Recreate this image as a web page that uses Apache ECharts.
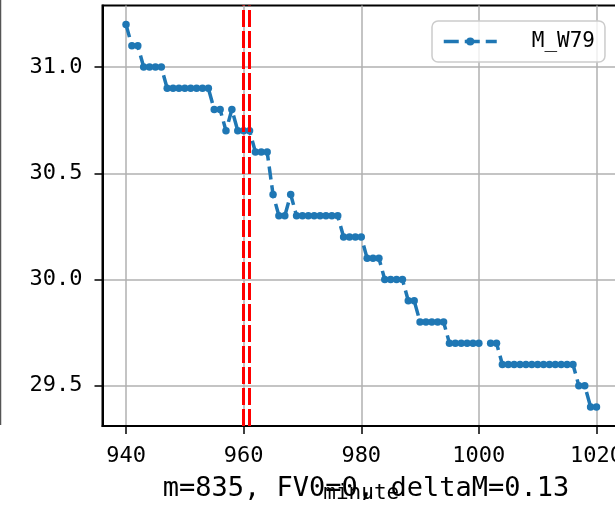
<!DOCTYPE html>
<html>
<head>
<meta charset="utf-8">
<script src="https://cdn.jsdelivr.net/npm/echarts@6/dist/echarts.min.js"></script>
<style>
html,body{margin:0;padding:0;background:#fff;}
#chart{width:615px;height:508px;}
</style>
</head>
<body>
<div id="chart"></div>
<script>
const minutes = [940,941,942,943,944,945,946,947,948,949,950,951,952,953,954,955,956,957,958,959,960,
  961,962,963,964,965,966,967,968,969,970,971,972,973,974,975,976,977,978,979,980,
  981,982,983,984,985,986,987,988,989,990,991,992,993,994,995,996,997,998,999,1000,
  1001,1002,1003,1004,1005,1006,1007,1008,1009,1010,1011,1012,1013,1014,1015,1016,1017,1018,1019,1020];
const mW79 = [31.2,31.1,31.1,31.0,31.0,31.0,31.0,30.9,30.9,30.9,30.9,30.9,30.9,30.9,30.9,30.8,30.8,30.7,30.8,30.7,30.7,
  30.7,30.6,30.6,30.6,30.4,30.3,30.3,30.4,30.3,30.3,30.3,30.3,30.3,30.3,30.3,30.3,30.2,30.2,30.2,30.2,
  30.1,30.1,30.1,30.0,30.0,30.0,30.0,29.9,29.9,29.8,29.8,29.8,29.8,29.8,29.7,29.7,29.7,29.7,29.7,29.7,
  null,29.7,29.7,29.6,29.6,29.6,29.6,29.6,29.6,29.6,29.6,29.6,29.6,29.6,29.6,29.6,29.5,29.5,29.4,29.4];
const seriesName = 'M_W79';
const xTicks = [940, 960, 980, 1000, 1020];
const yTicks = [29.5, 30.0, 30.5, 31.0];
const vLines = [960, 961];
const xRange = [936, 1024];
const yRange = [29.31, 31.29];
const titleText = 'm=835, FV0=0, deltaM=0.13';
const xName = 'minute';

const FONT = 'DejaVu Sans Mono';
const chart = echarts.init(document.getElementById('chart'), null, {renderer: 'canvas'});
const data = minutes.map((m, i) => [m, mW79[i]]);

chart.setOption({
  animation: false,
  backgroundColor: '#ffffff',
  title: {
    text: titleText,
    left: 361,
    textAlign: 'center',
    top: 470,
    textStyle: {fontFamily: FONT, fontSize: 27, fontWeight: 'normal', color: '#000'}
  },
  grid: {
    left: 102.5, top: 5.5, width: 517.5, height: 420.5,
    outerBoundsMode: 'none',
    containLabel: false,
    show: true, borderColor: '#000', borderWidth: 2, backgroundColor: 'transparent'
  },
  legend: {
    left: 432, top: 21,
    padding: [10, 10, 10, 10],
    itemWidth: 53, itemHeight: 10,
    backgroundColor: 'rgba(255,255,255,0.8)',
    borderColor: '#cccccc', borderWidth: 1.5, borderRadius: 6,
    lineStyle: {width: 3.5, type: [15, 6]},
    textStyle: {fontFamily: FONT, fontSize: 21, color: '#000', padding: [0, 0, 0, 30]},
    data: [seriesName]
  },
  xAxis: {
    type: 'value', min: xRange[0], max: xRange[1],
    name: xName, nameLocation: 'middle', nameGap: 57,
    nameTextStyle: {fontFamily: FONT, fontSize: 21, color: '#000'},
    axisLine: {show: true, onZero: false, lineStyle: {color: '#000', width: 2}},
    axisTick: {show: true, length: 8, lineStyle: {color: '#000', width: 1.5}, customValues: xTicks},
    axisLabel: {fontFamily: FONT, fontSize: 22, color: '#000', margin: 19, customValues: xTicks,
      formatter: v => String(Math.round(v))},
    splitLine: {show: true, lineStyle: {color: '#b0b0b0', width: 1.5}}
  },
  yAxis: {
    type: 'value', min: yRange[0], max: yRange[1],
    axisLine: {show: true, onZero: false, lineStyle: {color: '#000', width: 2}},
    axisTick: {show: true, length: 8, lineStyle: {color: '#000', width: 1.5}, customValues: yTicks},
    axisLabel: {fontFamily: FONT, fontSize: 22, color: '#000', margin: 20, customValues: yTicks,
      formatter: v => v.toFixed(1)},
    splitLine: {show: true, lineStyle: {color: '#b0b0b0', width: 1.5}}
  },
  graphic: [{
    type: 'line', shape: {x1: 0.5, y1: 0, x2: 0.5, y2: 425},
    style: {stroke: '#555', lineWidth: 1.5}, silent: true
  }],
  series: [{
    name: seriesName,
    type: 'line',
    data: data,
    connectNulls: false,
    symbol: 'circle', symbolSize: 7.5,
    showSymbol: true,
    itemStyle: {color: '#1f77b4'},
    lineStyle: {color: '#1f77b4', width: 3.5, type: [13, 6]},
    z: 3,
    markLine: {
      silent: true, symbol: 'none', label: {show: false},
      lineStyle: {color: '#ff0000', width: 3, type: [17, 4]},
      data: vLines.map(v => ({xAxis: v}))
    }
  }]
});
</script>
</body>
</html>
